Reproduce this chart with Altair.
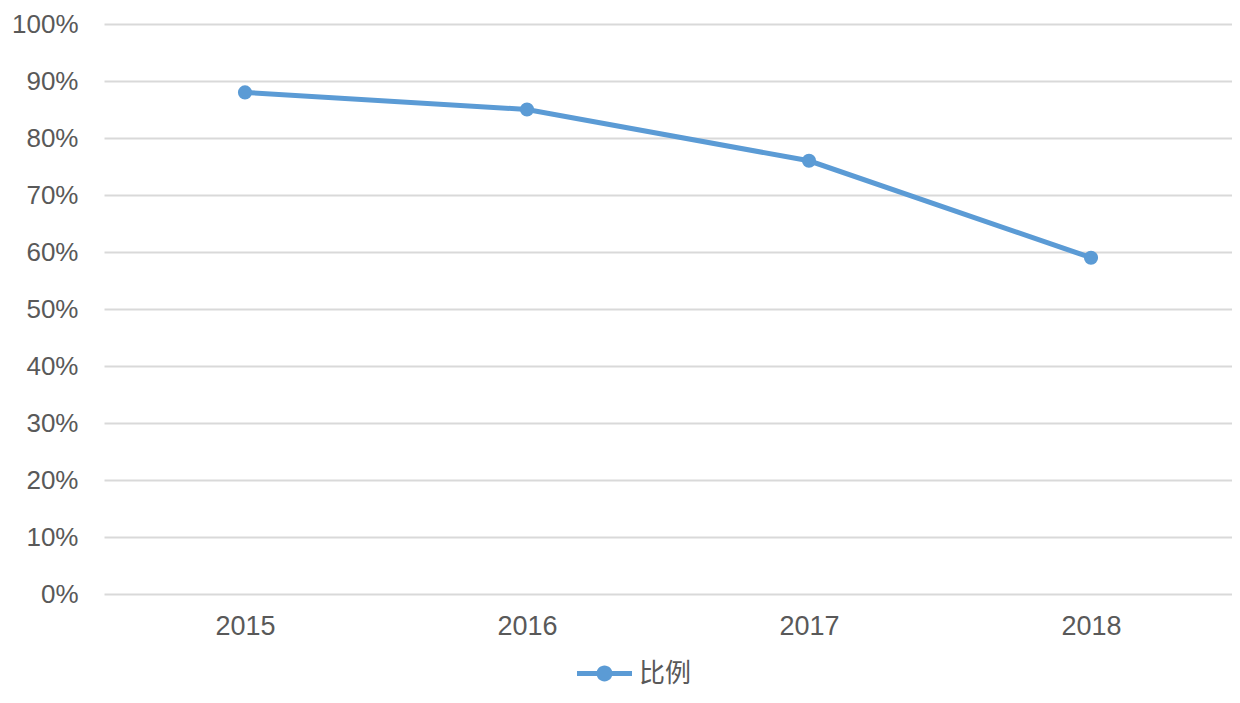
import altair as alt
import pandas as pd

years = ["2015", "2016", "2017", "2018"]
ratio = [0.88, 0.85, 0.76, 0.59]
series_name = "比例"

df = pd.DataFrame({"year": years, "ratio": ratio, "series": [series_name] * len(years)})

blue = "#5b9bd5"
label_color = "#595959"
font = "Liberation Sans"
legend_symbol = ("M-1,-0.09 L-0.25,-0.09 L-0.25,0.09 L-1,0.09 Z "
                 "M0.25,-0.09 L1,-0.09 L1,0.09 L0.25,0.09 Z "
                 "M-0.29,0 A0.29,0.29 0 1,1 0.29,0 A0.29,0.29 0 1,1 -0.29,0 Z")

base = alt.Chart(df).encode(
    x=alt.X("year:N", sort=years,
            scale=alt.Scale(type="point", padding=0.5),
            axis=alt.Axis(title=None, labelAngle=0, ticks=False, domain=False,
                          grid=False, labelFontSize=27, labelColor=label_color,
                          labelFont=font, labelPadding=19)),
    y=alt.Y("ratio:Q", scale=alt.Scale(domain=[0, 1], nice=False),
            axis=alt.Axis(title=None, format=".0%", values=[i / 10 for i in range(11)],
                          ticks=False, domain=False, gridColor="#d9d9d9", gridWidth=2,
                          labelFontSize=26, labelColor=label_color, labelFont=font,
                          labelPadding=26)),
    color=alt.Color("series:N", scale=alt.Scale(range=[blue]),
                    legend=alt.Legend(title=None, orient="none", legendX=473, legendY=622,
                                      symbolType=legend_symbol, symbolSize=3025,
                                      symbolStrokeWidth=0, symbolFillColor=blue,
                                      labelFontSize=26, labelColor=label_color,
                                      labelFont="Noto Sans CJK SC", labelOffset=7,
                                      labelLimit=200)),
)

line = base.mark_line(strokeWidth=5)
points = base.mark_point(filled=True, size=200, opacity=1)

chart = (line + points).properties(
    width=1128, height=570,
    padding={"left": 96, "top": 16, "right": 0, "bottom": 100},
    autosize=alt.AutoSizeParams(type="none"),
    background="#ffffff",
).configure_view(stroke=None)

chart.save("out.html", embed_options={"renderer": "svg", "actions": False})
